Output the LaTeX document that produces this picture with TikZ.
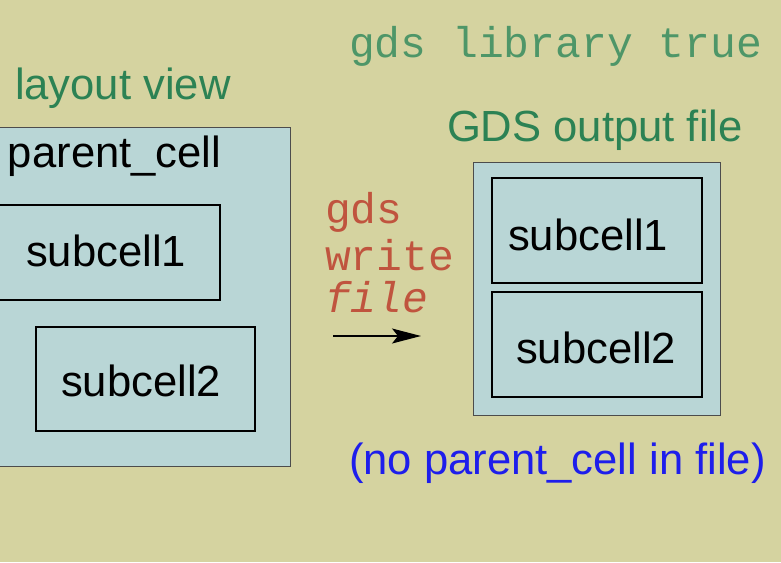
\documentclass[tikz,border=0pt]{standalone}
\usepackage{fontspec}
\setmainfont{Liberation Sans}
\newfontfamily\monofont{Liberation Mono}
\usetikzlibrary{arrows.meta}
\definecolor{bgkhaki}{RGB}{213,211,160}
\definecolor{cellfill}{RGB}{185,214,214}
\definecolor{lblgreen}{RGB}{44,130,84}
\definecolor{codegreen}{RGB}{78,150,104}
\definecolor{codered}{RGB}{192,84,62}
\definecolor{noteblue}{RGB}{30,30,235}
\begin{document}
\begin{tikzpicture}[x=1pt,y=-1pt,
  every node/.style={inner sep=0pt,outer sep=0pt},
  outerbox/.style={draw=black!70,line width=1pt,fill=cellfill},
  subbox/.style={draw=black,line width=1.3pt,fill=cellfill},
  bigtxt/.style={font=\fontsize{43.6}{50}\selectfont},
  codetxt/.style={font=\monofont\fontsize{43}{50}\selectfont}]
\fill[bgkhaki] (0,0) rectangle (781,562);
\useasboundingbox (0,0) rectangle (781,562);
% left parent cell
\draw[outerbox] (-5,127) rectangle (290,466);
\draw[subbox] (-5,205) rectangle (220,300);
\draw[subbox] (36,327) rectangle (255,431);
\node[bigtxt,anchor=west] (ptxt) at (8,156) {parent\_cell};
\node[bigtxt,anchor=west] (ls1) at (26,251) {subcell1};
\node[bigtxt,anchor=west] (ls2) at (61,381) {subcell2};
% headings
\node[bigtxt,anchor=west,text=lblgreen] (lv) at (15,88) {layout view};
\node[codetxt,anchor=west,text=codegreen] (gdslib) at (349,46) {gds library true};
\node[bigtxt,anchor=west,text=lblgreen] (gof) at (447,130) {GDS output file};
% right file
\draw[outerbox] (473,162) rectangle (720,415);
\draw[subbox] (492,178) rectangle (702,283);
\draw[subbox] (492,292) rectangle (702,397);
\node[bigtxt,anchor=west] (rs1) at (508,235) {subcell1};
\node[bigtxt,anchor=west] (rs2) at (516,348) {subcell2};
% command
\node[codetxt,anchor=west,text=codered] (c1) at (325,212) {gds};
\node[codetxt,anchor=west,text=codered] (c2) at (325,255) {write};
\node[codetxt,anchor=west,text=codered] (c3) at (325,297) {\itshape file};
\coordinate (a1) at (333,336);
\coordinate (a2) at (421,336);
\draw[line width=1.3pt,-{Stealth[length=29pt,width=15pt,inset=6pt]}] (a1) -- (a2);
% note
\node[bigtxt,anchor=west,text=noteblue] (note) at (349,463) {(no parent\_cell in file)};
\end{tikzpicture}
\end{document}
